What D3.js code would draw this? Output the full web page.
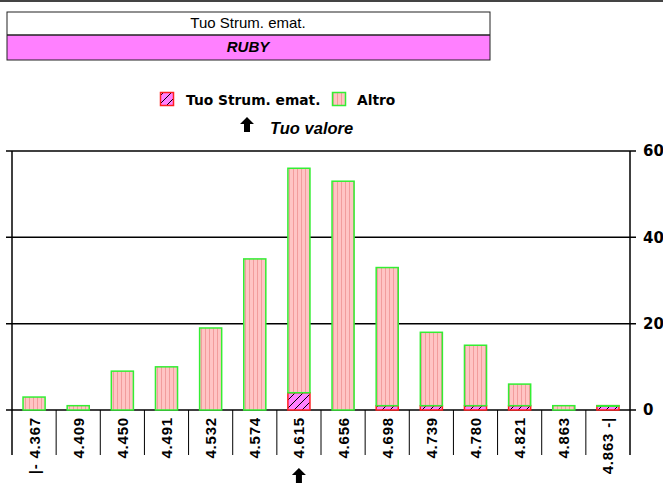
<!DOCTYPE html>
<html>
<head>
<meta charset="utf-8">
<script src="https://cdn.jsdelivr.net/npm/d3@7/dist/d3.min.js"></script>
<style>
  body { margin: 0; background: #fff; }
  svg { display: block; }
</style>
</head>
<body>
<div class="chart"></div>
<script>
'use strict';

// ---------------------------------------------------------------
// data
// ---------------------------------------------------------------
var categories = ['|- 4.367', '4.409', '4.450', '4.491', '4.532', '4.574', '4.615',
                  '4.656', '4.698', '4.739', '4.780', '4.821', '4.863', '4.863 -|'];
var tuoValues   = [0, 0, 0, 0, 0, 0, 4, 0, 1, 1, 1, 1, 0, 1];
var altroValues = [3, 1, 9, 10, 19, 35, 52, 53, 32, 17, 14, 5, 1, 0];
var yTicks = [0, 20, 40, 60];
var tuoIndex = 6;

// ---------------------------------------------------------------
// size
// ---------------------------------------------------------------
var w = 663, h = 483;
var plotLeft = 12, plotRight = 630, plotTop = 151, plotBottom = 410;

var svg = d3.select('.chart')
    .append('svg')
    .attr('width', w)
    .attr('height', h);

// patterns
var defs = svg.append('defs');
var pAltro = defs.append('pattern')
    .attr('id', 'altro')
    .attr('patternUnits', 'userSpaceOnUse')
    .attr('width', 4).attr('height', 4);
pAltro.append('rect').attr('width', 4).attr('height', 4).attr('fill', '#ffc4c4');
pAltro.append('rect').attr('x', 1).attr('width', 1).attr('height', 4).attr('fill', '#f29c9c');

var pTuo = defs.append('pattern')
    .attr('id', 'tuo')
    .attr('patternUnits', 'userSpaceOnUse')
    .attr('width', 8).attr('height', 8);
pTuo.append('rect').attr('width', 8).attr('height', 8).attr('fill', '#ff80ff');
pTuo.append('path').attr('d', 'M0,8 L8,0 M-2,2 L2,-2 M6,10 L10,6')
    .attr('stroke', '#000').attr('stroke-width', 1);

// ---------------------------------------------------------------
// header box
// ---------------------------------------------------------------
svg.append('line')
    .attr('x1', 0).attr('x2', w).attr('y1', 1).attr('y2', 1)
    .attr('stroke', '#444').attr('stroke-width', 2);

svg.append('rect')
    .attr('x', 7).attr('y', 35).attr('width', 483).attr('height', 25)
    .attr('fill', '#ff80ff');
svg.append('rect')
    .attr('x', 7).attr('y', 12).attr('width', 483).attr('height', 48)
    .attr('fill', 'none').attr('stroke', '#222').attr('stroke-width', 1);
svg.append('line')
    .attr('x1', 7).attr('x2', 490).attr('y1', 35).attr('y2', 35)
    .attr('stroke', '#222').attr('stroke-width', 1.5);

svg.append('text')
    .attr('x', 248).attr('y', 28)
    .attr('text-anchor', 'middle')
    .attr('font-family', 'Liberation Sans Narrow, Liberation Sans, Arial, sans-serif')
    .attr('font-size', 15)
    .text('Tuo Strum. emat.');
svg.append('text')
    .attr('x', 248).attr('y', 52)
    .attr('text-anchor', 'middle')
    .attr('font-family', 'Liberation Sans Narrow, Liberation Sans, Arial, sans-serif')
    .attr('font-size', 15)
    .attr('font-weight', 'bold')
    .attr('font-style', 'italic')
    .text('RUBY');

// ---------------------------------------------------------------
// legend
// ---------------------------------------------------------------
var arrowPath = function(cx, ty) {
    // up arrow, tip at ty
    return 'M' + cx + ',' + ty + ' l7,7 h-4 v8 h-6 v-8 h-4 z';
};

svg.append('rect')
    .attr('x', 160.5).attr('y', 92.5).attr('width', 13).attr('height', 13)
    .attr('fill', 'url(#tuo)').attr('stroke', '#ff2020').attr('stroke-width', 1.5);
svg.append('text')
    .attr('x', 186).attr('y', 105)
    .attr('font-family', 'DejaVu Sans, Verdana, sans-serif')
    .attr('font-size', 13.8).attr('font-weight', 'bold')
    .text('Tuo Strum. emat.');
svg.append('rect')
    .attr('x', 332.5).attr('y', 92.5).attr('width', 13).attr('height', 13)
    .attr('fill', 'url(#altro)').attr('stroke', '#33ee33').attr('stroke-width', 1.5);
svg.append('text')
    .attr('x', 357).attr('y', 105)
    .attr('font-family', 'DejaVu Sans, Verdana, sans-serif')
    .attr('font-size', 13.8).attr('font-weight', 'bold')
    .text('Altro');

svg.append('path').attr('d', arrowPath(247, 117)).attr('fill', '#000');
svg.append('text')
    .attr('x', 270).attr('y', 134)
    .attr('font-family', 'Liberation Sans, Arial, sans-serif')
    .attr('font-size', 16.5).attr('font-weight', 'bold').attr('font-style', 'italic')
    .text('Tuo valore');

// ---------------------------------------------------------------
// scales
// ---------------------------------------------------------------
var x = d3.scaleBand()
    .domain(categories)
    .range([plotLeft, plotRight])
    .paddingInner(0.5)
    .paddingOuter(0.25);

var y = d3.scaleLinear()
    .domain([0, 60])
    .range([plotBottom, plotTop]);

// right axis labels
var yAxis = d3.axisRight(y)
    .tickValues(yTicks)
    .tickSize(0)
    .tickPadding(13)
    .tickFormat(d3.format('d'));

svg.append('g')
    .attr('transform', 'translate(' + plotRight + ',0)')
    .call(yAxis)
    .call(function(g) { g.select('.domain').remove(); })
    .selectAll('text')
    .attr('font-family', 'DejaVu Sans, Tahoma, sans-serif')
    .attr('font-size', 15)
    .attr('font-weight', 'bold')
    .attr('fill', '#000');

// gridlines
svg.selectAll('line.grid')
    .data(yTicks)
    .enter()
    .append('line')
    .attr('class', 'grid')
    .attr('x1', 6).attr('x2', 636)
    .attr('y1', function(d) { return y(d); })
    .attr('y2', function(d) { return y(d); })
    .attr('stroke', '#000').attr('stroke-width', 1.5);

// frame sides
svg.append('line')
    .attr('x1', plotLeft).attr('x2', plotLeft).attr('y1', plotTop).attr('y2', plotBottom + 45)
    .attr('stroke', '#000').attr('stroke-width', 1.5);
svg.append('line')
    .attr('x1', plotRight).attr('x2', plotRight).attr('y1', plotTop).attr('y2', plotBottom + 45)
    .attr('stroke', '#000').attr('stroke-width', 1.5);

// category dividers below axis
svg.selectAll('line.div')
    .data(categories.slice(1))
    .enter()
    .append('line')
    .attr('class', 'div')
    .attr('x1', function(d) { return x(d) - x.bandwidth() / 2; })
    .attr('x2', function(d) { return x(d) - x.bandwidth() / 2; })
    .attr('y1', plotBottom).attr('y2', plotBottom + 45)
    .attr('stroke', '#000').attr('stroke-width', 1);

// ---------------------------------------------------------------
// bars
// ---------------------------------------------------------------
var rows = categories.map(function(c, i) {
    return { cat: c, tuo: tuoValues[i], altro: altroValues[i] };
});

var stack = d3.stack().keys(['tuo', 'altro'])(rows);

svg.selectAll('g.series')
    .data(stack)
    .enter()
    .append('g')
    .attr('class', 'series')
    .attr('fill', function(d) { return d.key === 'tuo' ? 'url(#tuo)' : 'url(#altro)'; })
    .attr('stroke', function(d) { return d.key === 'tuo' ? '#ff2020' : '#33ee33'; })
    .attr('stroke-width', 1.5)
    .selectAll('rect')
    .data(function(d) { return d.filter(function(s) { return s[1] - s[0] > 0 || d.key === 'altro'; }); })
    .enter()
    .append('rect')
    .attr('x', function(d) { return x(d.data.cat); })
    .attr('width', x.bandwidth())
    .attr('y', function(d) { return y(d[1]); })
    // empty segments still show their outline as a thin line
    .attr('height', function(d) { return Math.max(0.5, y(d[0]) - y(d[1])); });

// x labels
svg.selectAll('text.xl')
    .data(categories)
    .enter()
    .append('text')
    .attr('class', 'xl')
    .attr('transform', function(d) {
        return 'translate(' + (x(d) + x.bandwidth() / 2 + 5.5) + ',' + (plotBottom + 7) + ') rotate(-90)';
    })
    .attr('text-anchor', 'end')
    .attr('font-family', 'Liberation Sans Narrow, Arial Narrow, Liberation Sans, sans-serif')
    .attr('font-size', 15)
    .attr('font-weight', 'bold')
    .attr('letter-spacing', 0.8)
    .text(function(d) { return d; });

// arrow under your value
svg.append('path')
    .attr('d', arrowPath(x(categories[tuoIndex]) + x.bandwidth() / 2, 468))
    .attr('fill', '#000');
</script>
</body>
</html>
